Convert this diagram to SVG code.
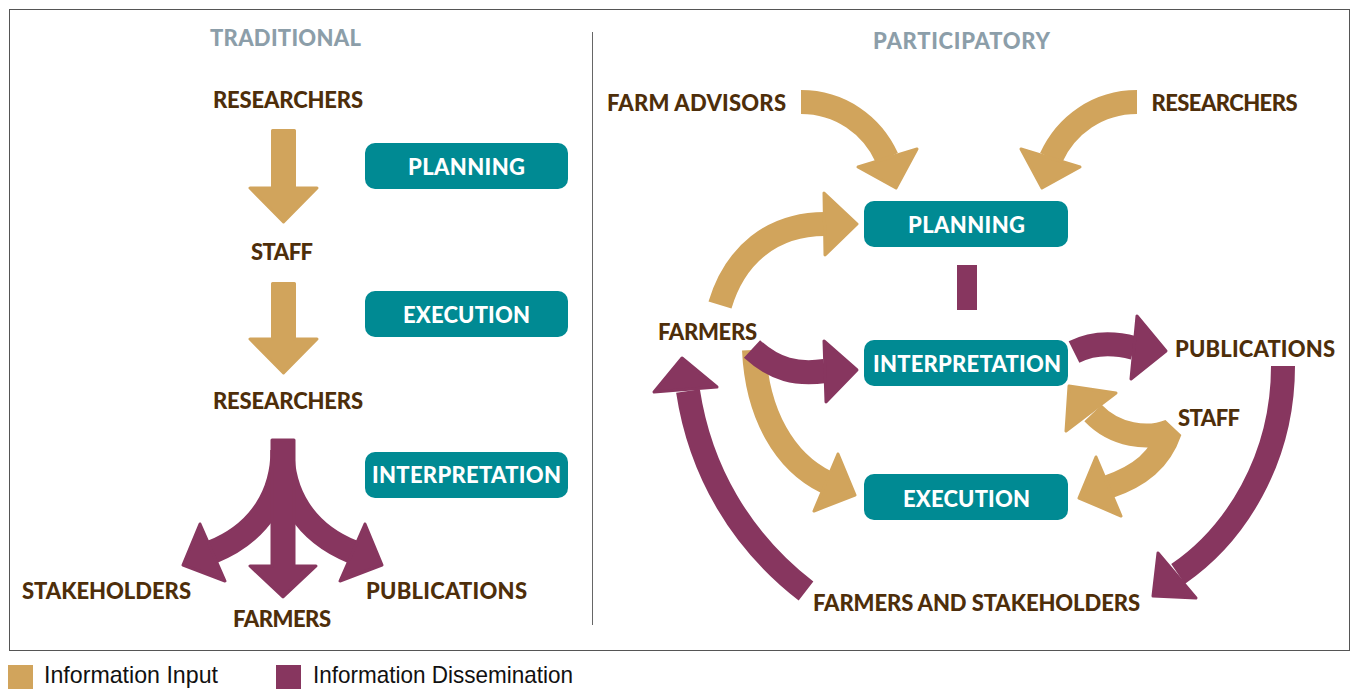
<svg xmlns="http://www.w3.org/2000/svg" width="1351" height="689" viewBox="0 0 1351 689">
<style>
.lbl{font-family:Lato,"Liberation Sans",sans-serif;font-weight:900;font-size:22px;fill:#4E2E0A;text-anchor:middle}
.hd{font-family:Lato,"Liberation Sans",sans-serif;font-weight:900;font-size:22px;fill:#8C9EA9;text-anchor:middle}
.bt{font-family:Lato,"Liberation Sans",sans-serif;font-weight:900;font-size:22px;fill:#FFFFFF;text-anchor:middle}
.box{fill:#008A93}
.tanS{fill:none;stroke:#D1A45C;stroke-width:24}
.purS{fill:none;stroke:#87365F;stroke-width:24}
.tanH{fill:#D1A45C;stroke:#D1A45C;stroke-width:3;stroke-linejoin:round}
.purH{fill:#87365F;stroke:#87365F;stroke-width:3;stroke-linejoin:round}
.leg{font-family:"Liberation Sans",sans-serif;font-size:24px;fill:#111}
</style>
<rect width="1351" height="689" fill="#fff"/>
<rect x="9.5" y="9.5" width="1340" height="641" fill="none" stroke="#555" stroke-width="1"/>
<line x1="592.5" y1="32" x2="592.5" y2="625" stroke="#666" stroke-width="1"/>

<text class="hd" x="285.5" y="46" textLength="151">TRADITIONAL</text>
<text class="hd" x="961.5" y="49" textLength="177">PARTICIPATORY</text>

<g id="connectors">
  <!-- left traditional -->
  <path class="tanH" d="M272.5,130.5 H294.5 V188 H317 L283.5,222 L250,188 H272.5 Z"/>
  <path class="tanH" d="M272.5,283.5 H294.5 V339 H317 L283.5,373 L250,339 H272.5 Z"/>
  <path class="purS" d="M282.5,450 C282.5,492 262,532 212,552" stroke-width="23"/>
  <path class="purS" d="M282.5,450 C282.5,492 303,532 353,552" stroke-width="23"/>
  <path class="purH" d="M272,440 H294 V566 H316 L283,597 L250,566 H272 Z"/>
  <polygon class="purH" points="200,524 225,581 183,565"/>
  <polygon class="purH" points="365,524 340,581 382,565"/>

  <!-- right participatory -->
  <path class="tanS" d="M801,102 C840,102 872,125 887,158" stroke-width="22"/>
  <polygon class="tanH" points="858,167 917,149 896,188"/>
  <path class="tanS" d="M1137,102 C1098,102 1066,125 1051,158" stroke-width="22"/>
  <polygon class="tanH" points="1080,167 1021,149 1042,188"/>

  <path class="tanS" d="M720,305 C735,255 772,224 825,224" stroke-width="25"/>
  <polygon class="tanH" points="824,193 825,255 857,224"/>

  <rect x="957" y="265" width="20" height="45" fill="#87365F"/>

  <path class="tanS" d="M754,350 C757,415 785,462 826,482" stroke-width="25"/>
  <polygon class="tanH" points="838,454 814,511 855,495"/>

  <path class="purS" d="M752,349 C775,370 797,375 825,371" stroke-width="24"/>
  <polygon class="purH" points="824,341 826,402 857,370"/>

  <path class="purS" d="M806,591 C740,540 700,470 688,391" stroke-width="26"/>
  <polygon class="purH" points="654,392 717,387 682,358"/>

  <path class="purS" d="M1074,352 C1092,343 1112,342 1134,348" stroke-width="26"/>
  <polygon class="purH" points="1137,316 1131,379 1166,351"/>

  <path class="purS" d="M1283,366 C1283,460 1235,535 1178,574" stroke-width="26"/>
  <polygon class="purH" points="1158,553 1196,598 1153,596"/>

  <path class="tanS" d="M1093,413 C1115,436 1148,440 1170,431 C1160,460 1140,476 1108,487" stroke-width="24" stroke-linejoin="bevel"/>
  <polygon class="tanH" points="1069,386 1116,393 1066,431"/>
  <polygon class="tanH" points="1079,498 1096,457 1121,516"/>
</g>

<g id="n-l-researchers1"><text class="lbl" x="288" y="108" textLength="150">RESEARCHERS</text></g>
<g id="n-l-planning"><rect class="box" x="365" y="143" width="203" height="46" rx="10"/><text class="bt" x="466.5" y="175" textLength="117">PLANNING</text></g>
<g id="n-l-staff"><text class="lbl" x="282" y="260" textLength="62">STAFF</text></g>
<g id="n-l-execution"><rect class="box" x="365" y="291" width="203" height="46" rx="10"/><text class="bt" x="466.5" y="323" textLength="127">EXECUTION</text></g>
<g id="n-l-researchers2"><text class="lbl" x="288" y="409" textLength="150">RESEARCHERS</text></g>
<g id="n-l-interpretation"><rect class="box" x="365" y="452" width="203" height="46" rx="10"/><text class="bt" x="466.5" y="483" textLength="189">INTERPRETATION</text></g>
<g id="n-l-stakeholders"><text class="lbl" x="106.5" y="599" textLength="169">STAKEHOLDERS</text></g>
<g id="n-l-farmers"><text class="lbl" x="282" y="627" textLength="98">FARMERS</text></g>
<g id="n-l-publications"><text class="lbl" x="446.5" y="599" textLength="161">PUBLICATIONS</text></g>

<g id="n-r-farmadvisors"><text class="lbl" x="696.5" y="111" textLength="179">FARM ADVISORS</text></g>
<g id="n-r-researchers"><text class="lbl" x="1224.5" y="111" textLength="146">RESEARCHERS</text></g>
<g id="n-r-planning"><rect class="box" x="864" y="201" width="204" height="46" rx="10"/><text class="bt" x="966.5" y="233" textLength="117">PLANNING</text></g>
<g id="n-r-interpretation"><rect class="box" x="864" y="340" width="204" height="46" rx="10"/><text class="bt" x="967" y="372" textLength="188">INTERPRETATION</text></g>
<g id="n-r-execution"><rect class="box" x="864" y="474" width="204" height="46" rx="10"/><text class="bt" x="966.5" y="507" textLength="127">EXECUTION</text></g>
<g id="n-r-farmers"><text class="lbl" x="707.5" y="340" textLength="99">FARMERS</text></g>
<g id="n-r-publications"><text class="lbl" x="1255" y="357" textLength="160">PUBLICATIONS</text></g>
<g id="n-r-staff"><text class="lbl" x="1209" y="426" textLength="62">STAFF</text></g>
<g id="n-r-farmersstakeholders"><text class="lbl" x="976.5" y="611" textLength="327">FARMERS AND STAKEHOLDERS</text></g>

<g id="legend">
  <rect x="8" y="665" width="25" height="24" fill="#D1A45C"/>
  <text class="leg" x="44" y="683" textLength="174" lengthAdjust="spacingAndGlyphs">Information Input</text>
  <rect x="276" y="665" width="25" height="24" fill="#87365F"/>
  <text class="leg" x="313" y="683" textLength="260" lengthAdjust="spacingAndGlyphs">Information Dissemination</text>
</g>
</svg>
